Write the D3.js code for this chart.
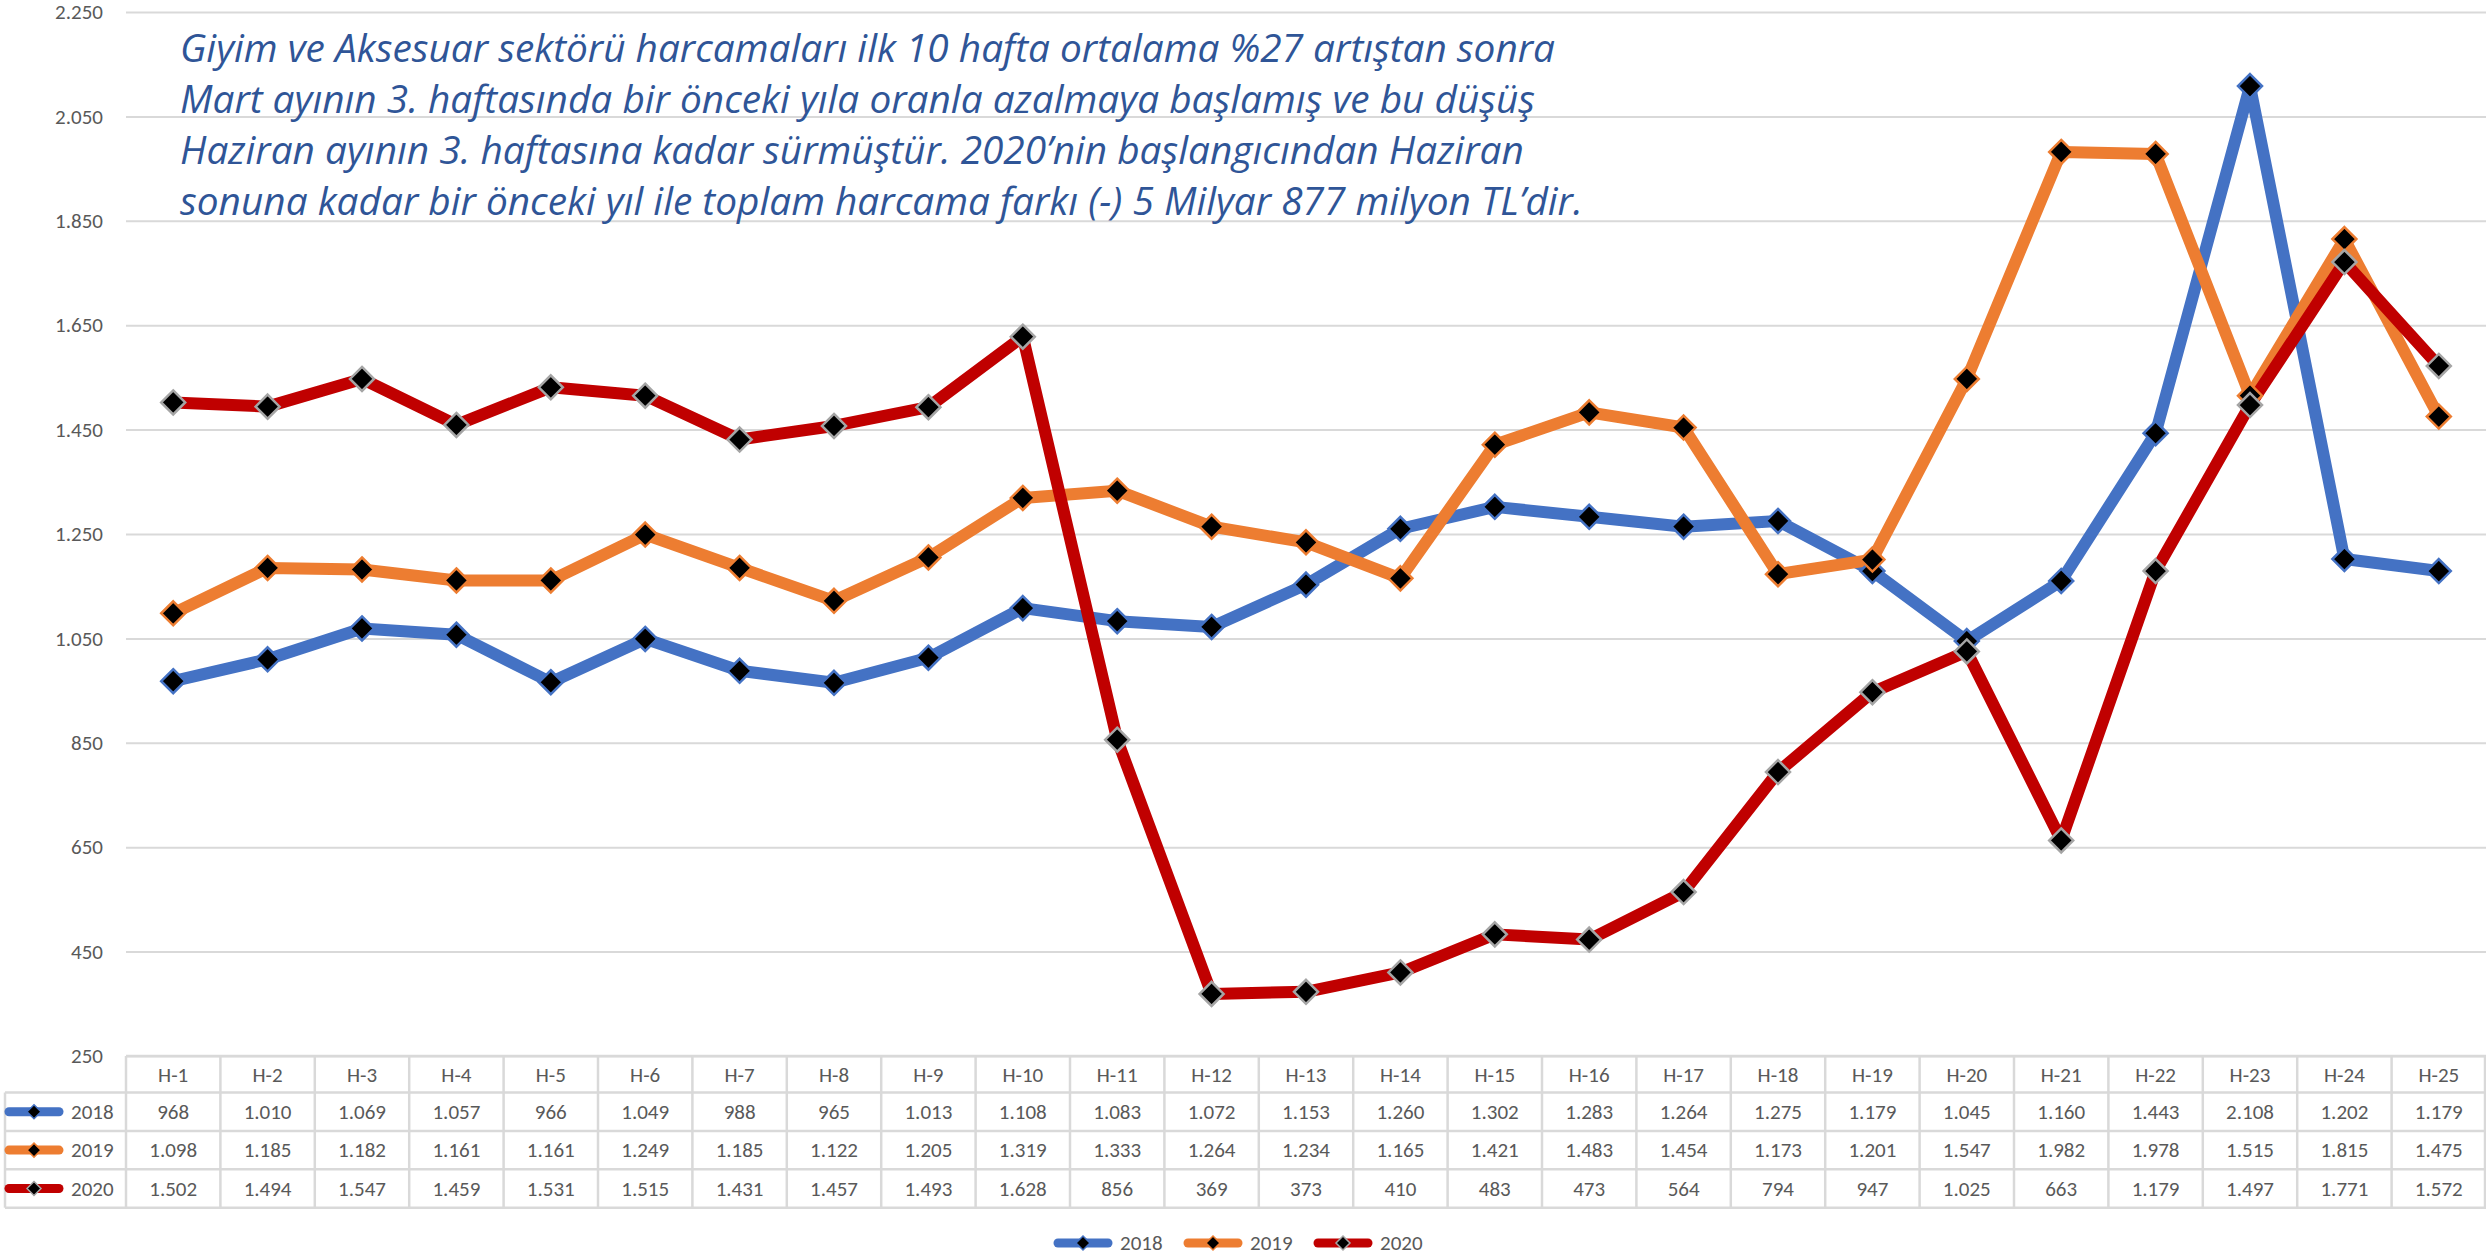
<!DOCTYPE html>
<html>
<head>
<meta charset="utf-8">
<script src="https://cdn.jsdelivr.net/npm/d3@7"></script>
<style>
  body { margin: 0; background: white; }
</style>
</head>
<body>
<div id="chart"></div>
<script>
// weekly categories
const weeks = ["H-1", "H-2", "H-3", "H-4", "H-5", "H-6", "H-7", "H-8", "H-9", "H-10",
  "H-11", "H-12", "H-13", "H-14", "H-15", "H-16", "H-17", "H-18", "H-19", "H-20",
  "H-21", "H-22", "H-23", "H-24", "H-25"];

// spending per week
const values2018 = [968, 1010, 1069, 1057, 966, 1049, 988, 965, 1013, 1108, 1083, 1072, 1153,
  1260, 1302, 1283, 1264, 1275, 1179, 1045, 1160, 1443, 2108, 1202, 1179];
const values2019 = [1098, 1185, 1182, 1161, 1161, 1249, 1185, 1122, 1205, 1319, 1333, 1264, 1234,
  1165, 1421, 1483, 1454, 1173, 1201, 1547, 1982, 1978, 1515, 1815, 1475];
const values2020 = [1502, 1494, 1547, 1459, 1531, 1515, 1431, 1457, 1493, 1628, 856, 369, 373,
  410, 483, 473, 564, 794, 947, 1025, 663, 1179, 1497, 1771, 1572];

const years = ["2018", "2019", "2020"];
const lineColors = ["#4472C4", "#ED7D31", "#C00000"];
const markerBorders = ["#4472C4", "#ED7D31", "#A5A5A5"];

// y axis ticks
const yTicks = [250, 450, 650, 850, 1050, 1250, 1450, 1650, 1850, 2050, 2250];

// annotation text
const titleLines = [
  "Giyim ve Aksesuar sektörü harcamaları ilk 10 hafta ortalama %27 artıştan sonra",
  "Mart ayının 3. haftasında bir önceki yıla oranla azalmaya başlamış ve bu düşüş",
  "Haziran ayının 3. haftasına kadar sürmüştür. 2020’nin başlangıcından Haziran",
  "sonuna kadar bir önceki yıl ile toplam harcama farkı (-) 5 Milyar 877 milyon TL’dir."
];

const seriesValues = [values2018, values2019, values2020];

// dimensions
const width = 2486;
const height = 1256;
const plotLeft = 126;
const plotRight = 2486;
const plotTop = 12;
const plotBottom = 1056;
const fontFamily = "Calibri, Carlito, Lato, sans-serif";
const textColor = "#595959";
const gridColor = "#D9D9D9";

const svg = d3.select("#chart")
  .append("svg")
  .attr("width", width)
  .attr("height", height)
  .style("background-color", "white");

// scales
const x = d3.scaleBand()
  .domain(weeks)
  .range([plotLeft, plotRight]);

const y = d3.scaleLinear()
  .domain([250, 2250])
  .range([plotBottom, plotTop]);

// turkish number format: dot as thousands separator
const trLocale = d3.formatLocale({ decimal: ",", thousands: ".", grouping: [3], currency: ["", " TL"] });
const fmt = trLocale.format(",");

// gridlines + y labels
const yAxis = svg.append("g")
  .attr("transform", `translate(${plotLeft},0)`)
  .call(d3.axisLeft(y)
    .tickValues(yTicks)
    .tickSize(-(plotRight - plotLeft))
    .tickPadding(23)
    .tickFormat(fmt));

yAxis.select(".domain").remove();
yAxis.selectAll(".tick line")
  .attr("stroke", gridColor)
  .attr("stroke-width", 2);
yAxis.selectAll(".tick text")
  .attr("fill", textColor)
  .style("font-family", fontFamily)
  .style("font-size", "21px");

// annotation
svg.append("g")
  .selectAll("text")
  .data(titleLines)
  .enter().append("text")
  .attr("x", 180)
  .attr("y", (d, i) => 62 + i * 51)
  .attr("fill", "#2F5597")
  .style("font-family", "'Open Sans', sans-serif")
  .style("font-style", "italic")
  .style("font-size", "38.8px")
  .text(d => d);

// lines
const cx = i => x(weeks[i]) + x.bandwidth() / 2;

const line = d3.line()
  .x((d, i) => cx(i))
  .y(d => y(d));

svg.append("g")
  .selectAll("path")
  .data(seriesValues)
  .enter().append("path")
  .attr("d", line)
  .attr("fill", "none")
  .attr("stroke", (d, i) => lineColors[i])
  .attr("stroke-width", 12)
  .attr("stroke-linejoin", "round")
  .attr("stroke-linecap", "round");

// diamond marker shape
const diamond = r => `M0,${-r}L${r},0L0,${r}L${-r},0Z`;

seriesValues.forEach((vals, s) => {
  svg.append("g")
    .selectAll("path")
    .data(vals)
    .enter().append("path")
    .attr("transform", (d, i) => `translate(${cx(i)},${y(d)})`)
    .attr("d", diamond(12))
    .attr("fill", "black")
    .attr("stroke", markerBorders[s])
    .attr("stroke-width", 2.5);
});

// data table under the chart
const headerTop = 1056;
const headerH = 36.5;
const rowH = 38.4;
const tableLeft = 5;
const tableBottom = headerTop + headerH + rowH * 3;

const table = svg.append("g");

// horizontal borders
table.append("line")
  .attr("x1", plotLeft).attr("x2", plotRight)
  .attr("y1", headerTop).attr("y2", headerTop)
  .attr("stroke", gridColor).attr("stroke-width", 2.5);
table.selectAll(".hrow")
  .data([0, 1, 2, 3])
  .enter().append("line")
  .attr("x1", tableLeft).attr("x2", plotRight)
  .attr("y1", i => headerTop + headerH + i * rowH)
  .attr("y2", i => headerTop + headerH + i * rowH)
  .attr("stroke", gridColor).attr("stroke-width", 2.5);

// vertical borders
const colEdges = weeks.map(w => x(w)).concat([plotRight - 1]);
table.selectAll(".vcol")
  .data(colEdges)
  .enter().append("line")
  .attr("x1", d => d).attr("x2", d => d)
  .attr("y1", headerTop).attr("y2", tableBottom)
  .attr("stroke", gridColor).attr("stroke-width", 2.5);
table.append("line")
  .attr("x1", tableLeft).attr("x2", tableLeft)
  .attr("y1", headerTop + headerH).attr("y2", tableBottom)
  .attr("stroke", gridColor).attr("stroke-width", 2.5);

// header labels
table.selectAll(".head")
  .data(weeks)
  .enter().append("text")
  .attr("x", d => x(d) + x.bandwidth() / 2)
  .attr("y", headerTop + headerH / 2)
  .attr("dy", "0.35em")
  .attr("text-anchor", "middle")
  .attr("fill", textColor)
  .style("font-family", fontFamily)
  .style("font-size", "21px")
  .text(d => d);

// legend swatch helper
function swatch(g, x0, yc, s) {
  g.append("line")
    .attr("x1", x0 + 5).attr("x2", x0 + 55)
    .attr("y1", yc).attr("y2", yc)
    .attr("stroke", lineColors[s])
    .attr("stroke-width", 9)
    .attr("stroke-linecap", "round");
  g.append("path")
    .attr("transform", `translate(${x0 + 30},${yc})`)
    .attr("d", diamond(7))
    .attr("fill", "black")
    .attr("stroke", markerBorders[s])
    .attr("stroke-width", 1.5);
}

// value rows
seriesValues.forEach((vals, s) => {
  const yc = headerTop + headerH + rowH * s + rowH / 2;
  swatch(table, 4, yc, s);
  table.append("text")
    .attr("x", 71)
    .attr("y", yc)
    .attr("dy", "0.35em")
    .attr("fill", textColor)
    .style("font-family", fontFamily)
    .style("font-size", "21px")
    .text(years[s]);

  table.append("g")
    .selectAll("text")
    .data(vals)
    .enter().append("text")
    .attr("x", (d, i) => cx(i))
    .attr("y", yc)
    .attr("dy", "0.35em")
    .attr("text-anchor", "middle")
    .attr("fill", textColor)
    .style("font-family", fontFamily)
    .style("font-size", "21px")
    .text(d => fmt(d));
});

// bottom legend
const legend = svg.append("g");
years.forEach((yr, s) => {
  const lx = 1053 + s * 130;
  swatch(legend, lx, 1243, s);
  legend.append("text")
    .attr("x", lx + 67)
    .attr("y", 1243)
    .attr("dy", "0.35em")
    .attr("fill", textColor)
    .style("font-family", fontFamily)
    .style("font-size", "21px")
    .text(yr);
});
</script>
</body>
</html>
